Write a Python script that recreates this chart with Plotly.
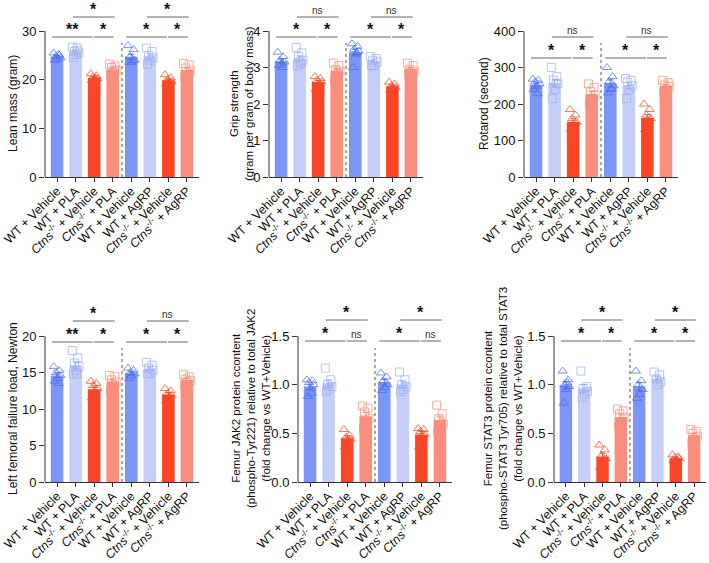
import numpy as np
import plotly.graph_objects as go

W, H = 709, 563
fonte = 'Arial, Liberation Sans, sans-serif'

ctns = '<i>Ctns</i><sup>-/-</sup>'
grupos = ['WT + Vehicle', 'WT + PLA', ctns + ' + Vehicle', ctns + ' + PLA',
          'WT + Vehicle', 'WT + AgRP', ctns + ' + Vehicle', ctns + ' + AgRP']

# valores individuais (um array por grupo)
lean_mass = [
    [25.5, 25.0, 24.8, 24.5, 24.2, 24.0, 25.2],
    [26.7, 26.0, 25.8, 25.5, 25.2, 24.6, 26.5],
    [21.2, 20.8, 20.5, 20.2, 20.0, 19.8, 20.3],
    [23.2, 22.8, 22.5, 22.0, 21.5, 21.0, 21.8],
    [27.0, 26.2, 24.8, 24.0, 23.5, 23.6, 23.9],
    [26.5, 25.8, 25.0, 24.5, 24.0, 23.2],
    [21.0, 20.4, 20.0, 19.6, 19.3, 19.1],
    [23.3, 23.0, 22.4, 21.8, 21.0, 20.5],
]
grip = [
    [3.42, 3.30, 3.20, 3.15, 3.10, 3.05, 3.00],
    [3.55, 3.40, 3.30, 3.20, 3.15, 3.05, 3.10],
    [2.75, 2.70, 2.65, 2.60, 2.55, 2.40, 2.55],
    [3.12, 3.05, 2.95, 2.90, 2.80, 2.65, 2.85],
    [3.65, 3.58, 3.50, 3.45, 3.35, 3.00, 3.40],
    [3.30, 3.25, 3.20, 3.15, 3.05, 3.05],
    [2.60, 2.55, 2.50, 2.45, 2.42, 2.38],
    [3.12, 3.05, 2.95, 2.90, 2.85, 2.85],
]
rotarod = [
    [268, 265, 260, 255, 248, 240, 228],
    [300, 275, 265, 255, 240, 215, 256],
    [185, 170, 160, 150, 140, 130, 122],
    [255, 245, 235, 225, 215, 205, 209],
    [300, 275, 262, 250, 240, 230, 242],
    [270, 265, 260, 250, 240, 215],
    [200, 185, 170, 160, 145, 130, 144],
    [265, 258, 252, 248, 240, 232],
]
femoral = [
    [15.8, 15.3, 15.0, 14.6, 14.2, 13.8, 13.5],
    [18.0, 17.0, 16.3, 15.8, 15.3, 14.8, 14.8],
    [13.8, 13.5, 13.2, 12.8, 12.2, 11.5, 11.9],
    [14.6, 14.4, 14.0, 13.7, 13.2, 12.5],
    [15.6, 15.3, 15.0, 14.8, 14.5, 14.2],
    [16.4, 16.0, 15.6, 15.3, 14.9, 14.8],
    [12.8, 12.5, 12.1, 11.9, 11.6, 11.1],
    [14.7, 14.4, 14.1, 13.9, 13.7, 13.2],
]
jak2 = [
    [1.05, 1.04, 1.02, 1.00, 0.96, 0.88, 0.91],
    [1.17, 1.05, 1.00, 0.98, 0.95, 0.93],
    [0.54, 0.48, 0.46, 0.44, 0.42, 0.36],
    [0.78, 0.76, 0.72, 0.65, 0.60, 0.55],
    [1.12, 1.08, 1.04, 1.00, 0.97, 0.94],
    [1.13, 1.05, 1.00, 0.98, 0.95, 0.93],
    [0.55, 0.54, 0.52, 0.49, 0.47, 0.36],
    [0.79, 0.70, 0.65, 0.60, 0.56, 0.52],
]
stat3 = [
    [1.14, 1.05, 1.00, 0.98, 0.95, 0.81, 1.02],
    [1.14, 0.98, 0.96, 0.93, 0.90, 0.87],
    [0.38, 0.33, 0.27, 0.24, 0.20, 0.15],
    [0.75, 0.73, 0.70, 0.66, 0.60, 0.57],
    [1.14, 1.04, 1.00, 0.95, 0.90, 0.86],
    [1.13, 1.10, 1.06, 1.03, 1.00],
    [0.28, 0.26, 0.25, 0.24, 0.22, 0.22],
    [0.54, 0.52, 0.50, 0.47, 0.44, 0.40],
]

# significancia: [inf esq, inf dir, sup] para cada metade
sig_lean = ['**', '*', '*', '*', '*', '*']
sig_grip = ['*', '*', 'ns', '*', '*', 'ns']
sig_rota = ['*', '*', 'ns', '*', '*', 'ns']
sig_femo = ['**', '*', '*', '*', '*', 'ns']
sig_jak2 = ['*', 'ns', '*', '*', 'ns', '*']
sig_stat = ['*', '*', '*', '*', '*', '*']

cor_barra = ['#7c96f8', '#c5cef8', '#fb4626', '#fa8e7c'] * 2
cor_ponto = ['#4f6ef5', '#9eb0f6', '#f4482b', '#f7907d'] * 2
simbolo = ['triangle-up-open', 'square-open'] * 4
jitter = [-0.18, 0.12, -0.06, 0.18, 0.02, -0.12, 0.08]

# paineis: dados, titulo, ticks, sig, dominio x (px), linha (0/1), x titulo (px), alturas colchetes (px)
paineis = [
    dict(d=lean_mass, t='Lean mass (gram)', tv=[0, 10, 20, 30], fmt='', s=sig_lean, dx=(45, 199), row=0, tx=13, br=(140, 160), fs=12),
    dict(d=grip, t='Grip strength<br>(gram per gram of body mass)', tv=[0, 1, 2, 3, 4], fmt='', s=sig_grip, dx=(269, 423), row=0, tx=242, br=(140, 160), fs=11.5),
    dict(d=rotarod, t='Rotarod (second)', tv=[0, 100, 200, 300, 400], fmt='', s=sig_rota, dx=(524, 678), row=0, tx=484, br=(119, 140), fs=12),
    dict(d=femoral, t='Left femoral failure load, Newton', tv=[0, 5, 10, 15, 20], fmt='', s=sig_femo, dx=(45, 199), row=1, tx=13, br=(140, 161), fs=12),
    dict(d=jak2, t='Femur JAK2 protein ccontent<br>(phospho-Tyr221) relative to total JAK2<br>(fold change vs WT+Vehicle)',
         tv=[0, 0.5, 1.0, 1.5], fmt='.1f', s=sig_jak2, dx=(298, 452), row=1, tx=251, br=(141, 162), fs=11.5),
    dict(d=stat3, t='Femur STAT3 protein ccontent<br>(phospho-STAT3 Tyr705) relative to total STAT3<br>(fold change vs WT+Vehicle)',
         tv=[0, 0.5, 1.0, 1.5], fmt='.1f', s=sig_stat, dx=(554, 706), row=1, tx=503, br=(141, 162), fs=11.5),
]

linhas_px = [(0, 177), (300, 482)]  # topo e base da area de plot (px)
escala_px = 146  # altura em px do ultimo tick

fig = go.Figure()
shapes, anots = [], []
layout = {}

for k, p in enumerate(paineis):
    n = '' if k == 0 else str(k + 1)
    xa, ya = 'x' + n, 'y' + n
    topo, base = linhas_px[p['row']]
    ppu = escala_px / p['tv'][-1]
    y_top = (base - topo) / ppu

    medias = [np.mean(v) for v in p['d']]
    sems = [np.std(v, ddof=1) / np.sqrt(len(v)) for v in p['d']]

    for i in range(8):
        fig.add_trace(go.Bar(x=[i], y=[medias[i]], width=0.68, marker=dict(color=cor_barra[i], line=dict(width=0)),
                             error_y=dict(type='data', array=[sems[i]], color=cor_ponto[i], thickness=1, width=3),
                             xaxis=xa, yaxis=ya, showlegend=False))
        vals = p['d'][i]
        fig.add_trace(go.Scatter(x=[i + jitter[j % len(jitter)] for j in range(len(vals))], y=vals, mode='markers',
                                 marker=dict(symbol=simbolo[i], size=8, color=cor_ponto[i], opacity=0.75,
                                             line=dict(width=1, color=cor_ponto[i])),
                                 xaxis=xa, yaxis=ya, showlegend=False, cliponaxis=False))

    layout['xaxis' + n] = dict(domain=[p['dx'][0] / W, p['dx'][1] / W], anchor=ya, range=[-0.65, 7.65],
                               automargin=False, ticklabeloverflow='allow', ticklabelstandoff=-3,
                               showline=True, linecolor='#333', linewidth=1, ticks='outside', ticklen=4,
                               tickcolor='#333', tickvals=list(range(8)), ticktext=grupos, tickangle=-45,
                               tickfont=dict(size=12.5, color='#111'), showgrid=False, zeroline=False, fixedrange=True)
    layout['yaxis' + n] = dict(domain=[1 - base / H, 1 - topo / H], anchor=xa, range=[0, y_top],
                               automargin=False, ticklabeloverflow='allow',
                               showline=False, ticks='outside', ticklen=5, tickcolor='#333', tickvals=p['tv'],
                               tickformat=p['fmt'], tickfont=dict(size=13, color='#111'), showgrid=False,
                               zeroline=False, fixedrange=True)

    # linha do eixo y ate o ultimo tick
    shapes.append(dict(type='line', xref=xa + ' domain', yref=ya, x0=0, x1=0, y0=0, y1=p['tv'][-1],
                       line=dict(color='#333', width=1)))
    # divisoria tracejada
    shapes.append(dict(type='line', xref=xa, yref=ya, x0=3.5, x1=3.5, y0=0, y1=134 / ppu,
                       line=dict(color='#555', width=1, dash='dot')))

    y_inf, y_sup = p['br'][0] / ppu, p['br'][1] / ppu
    for h in range(2):
        a = 4 * h
        segs = [(a - 0.27, a + 1.92, y_inf, p['s'][3 * h]),
                (a + 1.98, a + 3.05, y_inf, p['s'][3 * h + 1]),
                (a + 0.85, a + 3.1, y_sup, p['s'][3 * h + 2])]
        for x0, x1, yy, txt in segs:
            shapes.append(dict(type='line', xref=xa, yref=ya, x0=x0, x1=x1, y0=yy, y1=yy,
                               line=dict(color='#666', width=1)))
            if txt == 'ns':
                anots.append(dict(x=(x0 + x1) / 2, y=yy, xref=xa, yref=ya, text='ns', showarrow=False,
                                  yanchor='bottom', yshift=1, borderpad=0, borderwidth=0,
                                  font=dict(size=10, color='#333', family=fonte)))
            else:
                anots.append(dict(x=(x0 + x1) / 2, y=yy, xref=xa, yref=ya, text='<b>' + txt + '</b>',
                                  showarrow=False, yanchor='middle', yshift=7.5, borderpad=0, borderwidth=0,
                                  font=dict(size=16, color='#111', family=fonte)))

    # titulo do eixo y
    ymid = base - escala_px / 2
    anots.append(dict(x=p['tx'] / W, y=1 - ymid / H, xref='paper', yref='paper', text=p['t'], textangle=-90,
                      showarrow=False, xanchor='center', yanchor='middle',
                      font=dict(size=p['fs'], color='#111', family=fonte)))

fig.update_layout(**layout)
fig.update_layout(
    width=W, height=H,
    margin=dict(l=0, r=0, t=0, b=0, pad=0, autoexpand=False),
    plot_bgcolor='white', paper_bgcolor='white',
    font=dict(family=fonte, color='#111'),
    barmode='overlay',
    shapes=shapes, annotations=anots,
    showlegend=False,
)

# tira a margem padrao do body para a figura ocupar a janela toda
fig.write_html('out.html', config={'displayModeBar': False},
               post_script="document.body.style.margin='0';")
